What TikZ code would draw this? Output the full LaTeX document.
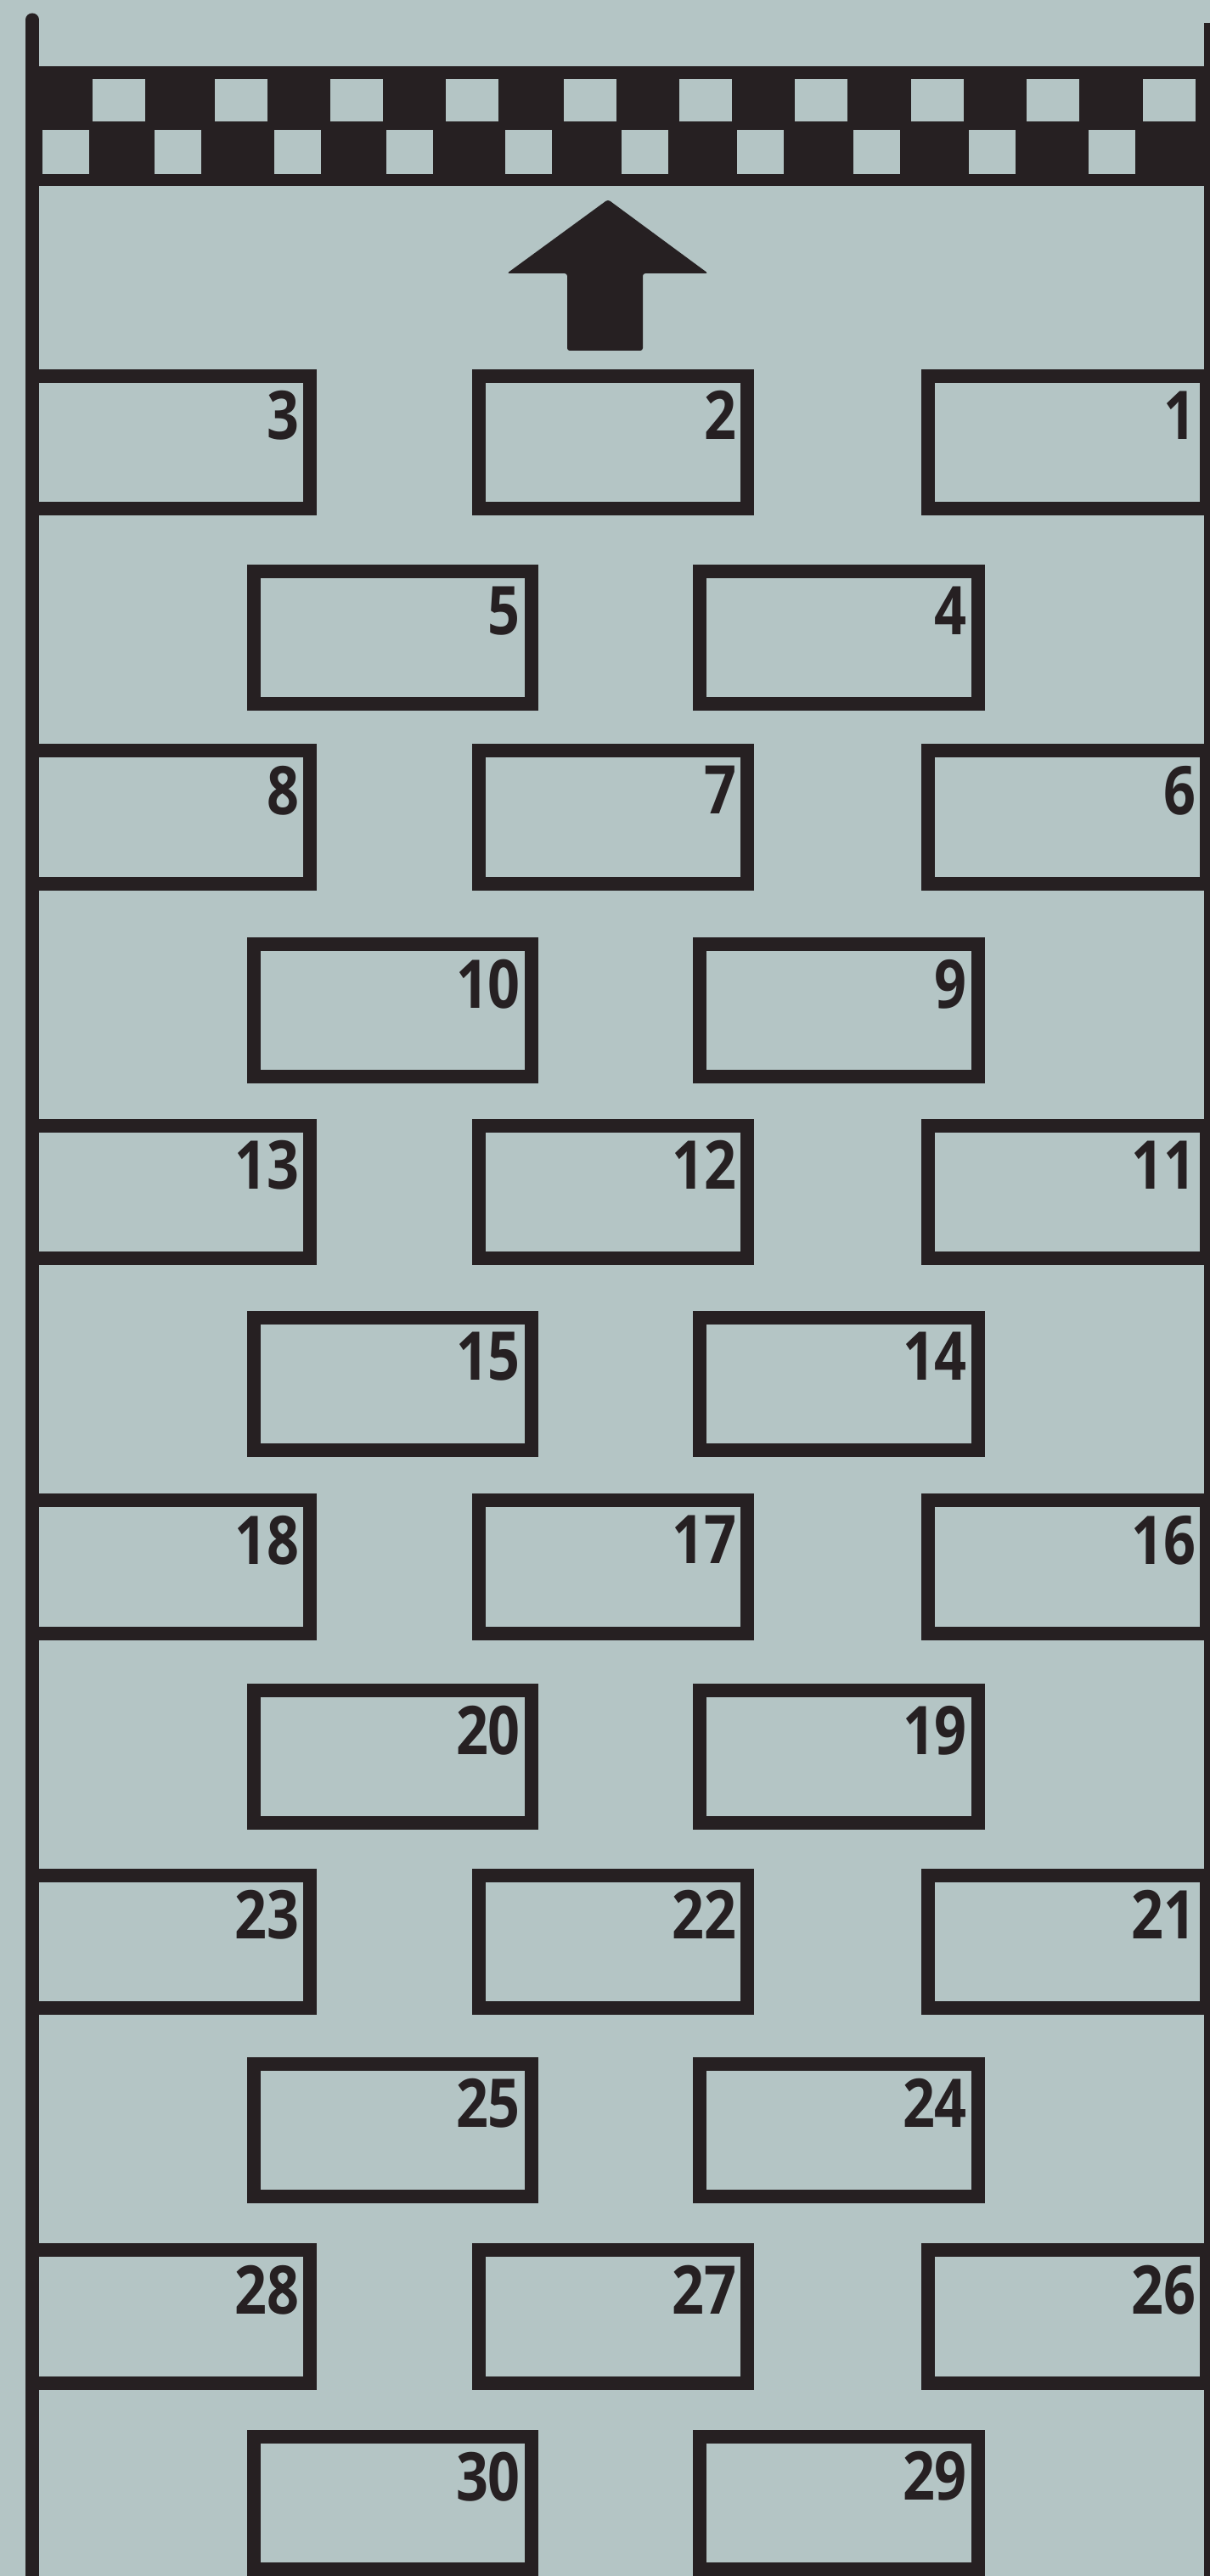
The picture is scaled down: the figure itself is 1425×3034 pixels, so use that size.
\documentclass[tikz,border=0pt]{standalone}
\usepackage{fontspec}
\newfontfamily\digitfont{Open Sans}
\usetikzlibrary{calc}
\definecolor{ink}{RGB}{38,32,34}
\definecolor{paper}{RGB}{180,197,197}
\newcommand{\boxnum}[1]{\scalebox{0.84}[1]{#1}}
\tikzset{
  slot/.style={draw=ink, line width=0.16cm, rectangle, inner sep=0pt, minimum height=1.56cm},
  num/.style={anchor=north east, inner sep=0pt, text=ink, font=\digitfont\bfseries\fontsize{22.5}{22.5}\selectfont},
}
\begin{document}
\begin{tikzpicture}[x=0.01cm, y=-0.01cm]
\path[use as bounding box, fill=paper] (0,0) rectangle (1425,3034);
\begin{scope}
\clip (0,0) rectangle (1425,3034);
% checkered band
\fill[ink] (38,78) rectangle (1425,219);
\foreach \x in {109,253,389,525,664,800,936,1073,1209,1346}
  \fill[paper] (\x,93) rectangle ++(62,50);
\foreach \x in {50,182,323,455,595,732,868,1005,1141,1282}
  \fill[paper] (\x,153) rectangle ++(55,52);
% posts
\draw[ink, line width=0.15cm, line cap=round] (38,23) -- (38,3060);
\draw[ink, line width=0.07cm] (1421,27) -- (1421,3060);
% arrow
\fill[ink, rounded corners=0.03cm] (716,235) -- (834,322) -- (757,322) -- (757,413) -- (668,413) -- (668,322) -- (597,322) -- cycle;
% rows of three
\foreach \k in {0,...,5} {
  \pgfmathsetmacro{\yc}{521+441.5*\k}
  \pgfmathtruncatemacro{\na}{5*\k+1}
  \pgfmathtruncatemacro{\nb}{5*\k+2}
  \pgfmathtruncatemacro{\nc}{5*\k+3}
  \node[slot, minimum width=3.28cm] (b\na) at (1257,\yc) {};
  \node[slot, minimum width=3.16cm] (b\nb) at (722,\yc) {};
  \node[slot, minimum width=3.27cm] (b\nc) at (201.5,\yc) {};
  \node[num] (l\na) at ($(b\na.north east)+(-20,25)$) {\boxnum{\na}};
  \node[num] (l\nb) at ($(b\nb.north east)+(-20,25)$) {\boxnum{\nb}};
  \node[num] (l\nc) at ($(b\nc.north east)+(-20,25)$) {\boxnum{\nc}};
}
% rows of two
\foreach \k in {0,...,5} {
  \pgfmathsetmacro{\yc}{751+439.4*\k}
  \pgfmathtruncatemacro{\na}{5*\k+4}
  \pgfmathtruncatemacro{\nb}{5*\k+5}
  \node[slot, minimum width=3.27cm] (b\na) at (988,\yc) {};
  \node[slot, minimum width=3.26cm] (b\nb) at (462.5,\yc) {};
  \node[num] (l\na) at ($(b\na.north east)+(-20,25)$) {\boxnum{\na}};
  \node[num] (l\nb) at ($(b\nb.north east)+(-20,25)$) {\boxnum{\nb}};
}
\end{scope}
\end{tikzpicture}
\end{document}
